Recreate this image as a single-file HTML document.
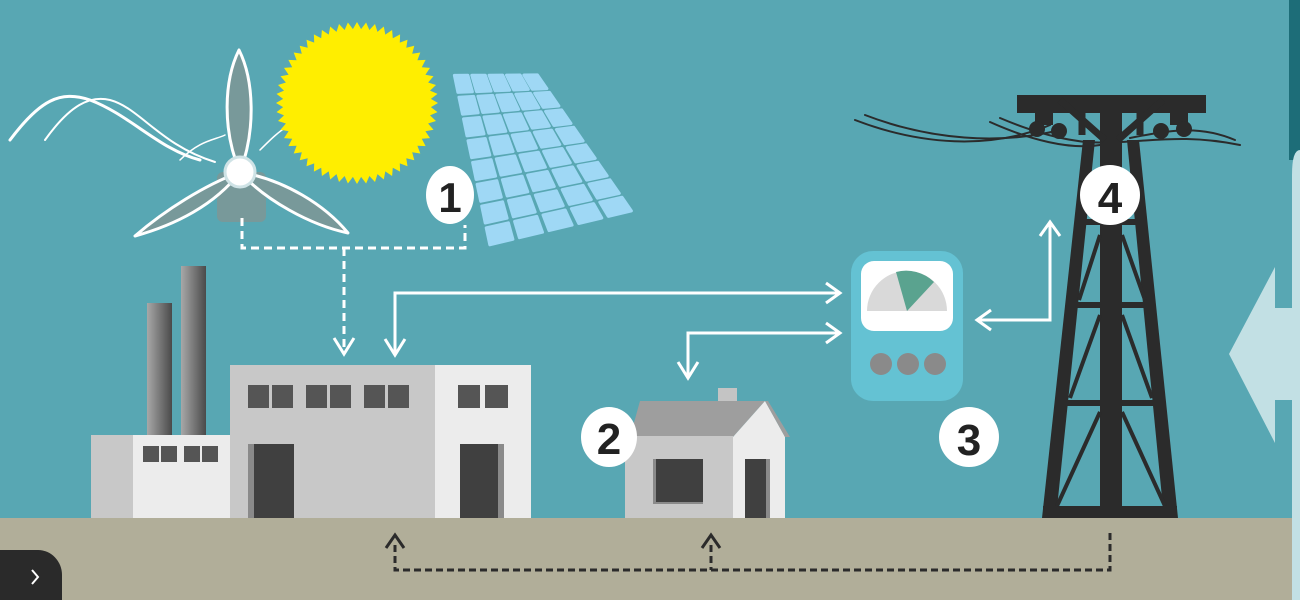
<!DOCTYPE html>
<html><head><meta charset="utf-8"><style>
html,body{margin:0;padding:0;width:1300px;height:600px;overflow:hidden;background:#58a7b3}
svg{display:block}
text{font-family:"Liberation Sans",sans-serif;font-weight:bold}
</style></head><body>
<svg id="s" width="1300" height="600" viewBox="0 0 1300 600" xmlns="http://www.w3.org/2000/svg">
<defs>
<linearGradient id="ch" x1="0" x2="1" y1="0" y2="0"><stop offset="0" stop-color="#a8a8a8"/><stop offset="1" stop-color="#4a4a4a"/></linearGradient>
</defs>
<rect width="1300" height="600" fill="#58a7b3"/>
<rect x="0" y="518" width="1300" height="82" fill="#b1ae99"/>
<rect x="1289" y="0" width="11" height="160" fill="#1d6d78"/>
<path d="M1292 600 V175 Q1292 150 1300 150 V600 Z" fill="#c2e0e4"/>
<polygon points="1229,354 1275,267 1275,308 1292,308 1292,400 1275,400 1275,443" fill="#c2e0e4"/>
<g fill="none" stroke="#fff" stroke-linecap="round">
<path d="M10 140 C40 100 60 90 90 100 C130 115 160 150 200 160" stroke-width="3"/>
<path d="M45 140 C70 105 90 95 110 100 C140 108 160 145 215 162" stroke-width="2"/>
<path d="M180 160 C200 140 215 140 225 135" stroke-width="1.5"/>
<path d="M260 150 C270 140 280 130 290 125" stroke-width="1.5"/>
</g>
<rect x="217" y="172" width="49" height="50" rx="6" fill="#78999a"/>
<g fill="#78999a" stroke="#fff" stroke-width="3" stroke-linejoin="round">
<path d="M240 172 C222 130 224 80 239 50 C254 80 256 130 240 172 Z"/>
<path d="M240 172 C205 185 165 210 135 236 C175 225 215 205 240 172 Z"/>
<path d="M240 172 C265 200 310 225 348 233 C325 205 285 180 240 172 Z"/>
</g>
<circle cx="240" cy="172" r="15" fill="#fff" stroke="#cfe3e6" stroke-width="3"/>
<polygon id="sun" fill="#ffee00"/>
<g id="panel" fill="#9fd8f5"></g>
<g fill="none" stroke="#fff" stroke-width="3" stroke-dasharray="8,5">
<path d="M242 218 V248 H465 V225"/>
<path d="M344 248 V352"/>
</g>
<g fill="none" stroke="#fff" stroke-width="3">
<path d="M334 338 L344 354 L354 338"/>
<path d="M395 355 V293 H838"/>
<path d="M385 339 L395 355 L405 339"/>
<path d="M826 283 L840 293 L826 303"/>
<path d="M688 378 V333 H838"/>
<path d="M678 362 L688 378 L698 362"/>
<path d="M826 323 L840 333 L826 343"/>
<path d="M1050 222 V320 H977"/>
<path d="M1040 236 L1050 222 L1060 236"/>
<path d="M991 310 L977 320 L991 330"/>
</g>
<ellipse cx="450" cy="195" rx="24" ry="29" fill="#fff"/>
<text x="450" y="212" font-size="42" text-anchor="middle" fill="#222">1</text>
<rect x="147" y="303" width="25" height="132" fill="url(#ch)"/>
<rect x="181" y="266" width="25" height="169" fill="url(#ch)"/>
<rect x="91" y="435" width="42" height="83" fill="#c8c8c8"/>
<rect x="133" y="435" width="97" height="83" fill="#ececec"/>
<rect x="143" y="446" width="16" height="16" fill="#555"/><rect x="161" y="446" width="16" height="16" fill="#555"/>
<rect x="184" y="446" width="16" height="16" fill="#555"/><rect x="202" y="446" width="16" height="16" fill="#555"/>
<rect x="230" y="365" width="205" height="153" fill="#c8c8c8"/>
<rect x="435" y="365" width="96" height="153" fill="#ececec"/>
<g fill="#555">
<rect x="248" y="385" width="21" height="23"/><rect x="272" y="385" width="21" height="23"/>
<rect x="306" y="385" width="21" height="23"/><rect x="330" y="385" width="21" height="23"/>
<rect x="364" y="385" width="21" height="23"/><rect x="388" y="385" width="21" height="23"/>
<rect x="458" y="385" width="22" height="23"/><rect x="485" y="385" width="23" height="23"/>
</g>
<rect x="248" y="444" width="46" height="74" fill="#8a8a8a"/><rect x="254" y="444" width="40" height="74" fill="#404040"/>
<rect x="460" y="444" width="44" height="74" fill="#8a8a8a"/><rect x="460" y="444" width="38" height="74" fill="#404040"/>
<rect x="718" y="388" width="19" height="44" fill="#c4c4c4"/>
<polygon points="640,401 765,401 733,437 630,437" fill="#9e9e9e"/>
<rect x="625" y="436" width="108" height="82" fill="#c8c8c8"/>
<polygon points="733,437 765,401 785,437 785,518 733,518" fill="#ececec"/>
<polygon points="765,401 768,401 790,437 785,437" fill="#9e9e9e"/>
<rect x="653" y="459" width="50" height="45" fill="#8a8a8a"/><rect x="656" y="459" width="47" height="43" fill="#404040"/>
<rect x="745" y="459" width="25" height="59" fill="#8a8a8a"/><rect x="745" y="459" width="21" height="59" fill="#404040"/>
<ellipse cx="609" cy="437" rx="28" ry="30" fill="#fff"/>
<text x="609" y="454" font-size="44" text-anchor="middle" fill="#222">2</text>
<rect x="851" y="251" width="112" height="150" rx="22" fill="#64c2d3"/>
<rect x="861" y="261" width="92" height="70" rx="13" fill="#fff"/>
<path d="M867 311 A40 40 0 0 1 947 311 Z" fill="#d9d9d9"/>
<path d="M907 311 L896 272 A40 40 0 0 1 934 282 Z" fill="#5aa38f"/>
<circle cx="881" cy="364" r="11" fill="#8a8a8a"/><circle cx="908" cy="364" r="11" fill="#8a8a8a"/><circle cx="935" cy="364" r="11" fill="#8a8a8a"/>
<circle cx="969" cy="437" r="30" fill="#fff"/>
<text x="969" y="455" font-size="44" text-anchor="middle" fill="#222">3</text>
<g fill="none" stroke="#2b2b2b" stroke-linecap="round">
<path d="M855 120 C920 145 990 150 1050 125" stroke-width="2"/>
<path d="M865 115 C930 140 1000 145 1060 130" stroke-width="2"/>
<path d="M990 122 C1030 140 1070 150 1100 145" stroke-width="2"/>
<path d="M1000 118 C1040 135 1080 145 1110 142" stroke-width="2"/>
<path d="M1120 142 C1160 140 1190 135 1240 145" stroke-width="2"/>
<path d="M1130 138 C1170 130 1200 125 1235 140" stroke-width="2"/>
</g>
<g fill="#2b2b2b">
<rect x="1017" y="95" width="189" height="18"/>
<rect x="1035" y="110" width="18" height="15"/><rect x="1170" y="110" width="18" height="15"/>
<circle cx="1037" cy="129" r="8"/><circle cx="1059" cy="131" r="8"/><circle cx="1161" cy="131" r="8"/><circle cx="1184" cy="129" r="8"/>
<rect x="1100" y="105" width="22" height="413"/>
<polygon points="1083,140 1095,140 1056,518 1042,518"/>
<polygon points="1127,140 1139,140 1178,518 1164,518"/>
<rect x="1043" y="506" width="134" height="12"/>
</g>
<g stroke="#2b2b2b" fill="none">
<path d="M1060 100 L1105 140 M1163 100 L1118 140 M1082 113 V135 M1140 113 V135" stroke-width="7"/>
<path d="M1082 222 H1141 M1072 305 H1150 M1061 403 H1161" stroke-width="6"/>
<path d="M1100 235 L1079 300 M1122 235 L1145 300 M1100 315 L1070 398 M1122 315 L1152 398 M1100 412 L1057 506 M1122 412 L1165 506" stroke-width="4"/>
<path d="M1086 175 H1136" stroke-width="5"/>
</g>
<circle cx="1110" cy="195" r="30" fill="#fff"/>
<text x="1110" y="213" font-size="44" text-anchor="middle" fill="#222">4</text>
<g fill="none" stroke="#2b2b2b" stroke-width="3">
<path d="M395 545 V570 H1110 V530 M711 545 V570" stroke-dasharray="7,4"/>
<path d="M386 548 L395 535 L404 548 M702 548 L711 535 L720 548"/>
</g>
<path d="M0 550 H38 A24 25 0 0 1 62 575 V600 H0 Z" fill="#2a2a2a"/>
<path d="M32 570 L38 577 L32 584" fill="none" stroke="#fff" stroke-width="2"/>
</svg>
<script>
var ns="http://www.w3.org/2000/svg";
var pts=[],cx=357,cy=103,n=56;
for(var i=0;i<n*2;i++){var a=i*Math.PI/n,r=i%2?74:81;pts.push((cx+r*Math.cos(a)).toFixed(1)+","+(cy+r*Math.sin(a)).toFixed(1));}
document.getElementById("sun").setAttribute("points",pts.join(" "));
var TL=[452,73],TR=[538,73],BR=[636,212],BL=[487,248],C=5,R=8,g=document.getElementById("panel");
function P(u,v){var x=(1-v)*((1-u)*TL[0]+u*TR[0])+v*((1-u)*BL[0]+u*BR[0]);var y=(1-v)*((1-u)*TL[1]+u*TR[1])+v*((1-u)*BL[1]+u*BR[1]);return x.toFixed(1)+","+y.toFixed(1);}
var gap=0.22;
for(var r=0;r<R;r++)for(var c=0;c<C;c++){
var u0=(c+gap/2)/C,u1=(c+1-gap/2)/C,v0=(r+gap/2)/R,v1=(r+1-gap/2)/R;
var p=document.createElementNS(ns,"polygon");
p.setAttribute("points",[P(u0,v0),P(u1,v0),P(u1,v1),P(u0,v1)].join(" "));
p.setAttribute("stroke","#9fd8f5");p.setAttribute("stroke-width","3");p.setAttribute("stroke-linejoin","round");
g.appendChild(p);}
</script>
</body></html>
